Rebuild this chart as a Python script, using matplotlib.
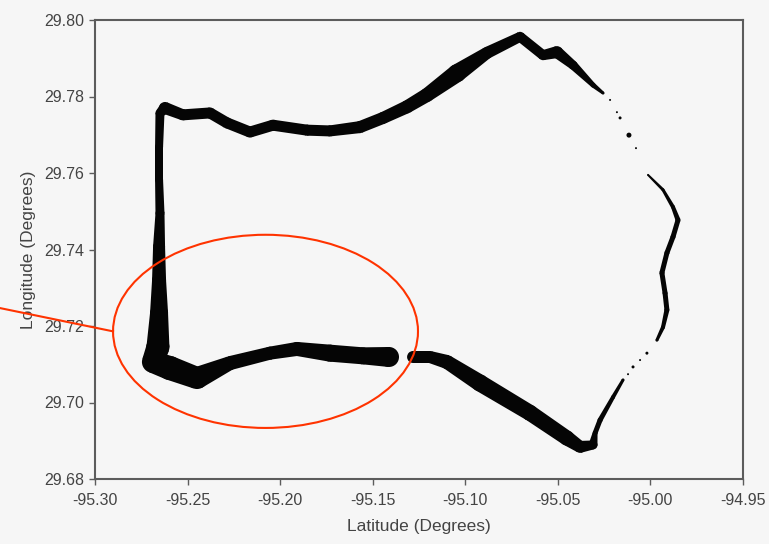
"""
GPS track of a test drive, line thickness = position spread.
The circled stretch marks the section discussed in the text.
"""
import numpy as np
import matplotlib
matplotlib.use("Agg")
import matplotlib.pyplot as plt
from matplotlib.collections import PolyCollection
from matplotlib.patches import Ellipse
from matplotlib.transforms import IdentityTransform

# ── Data ───────────────────────────────────────────────────────────────────
# solid stretch 1: from the big dot west, up the west road, east, over the top
RUN_A_LON = [-95.1412, -95.1553, -95.1731, -95.1909, -95.2055, -95.2271, -95.2449,
             -95.2595, -95.2687, -95.2660, -95.2654, -95.2654, -95.2654, -95.2649,
             -95.2654, -95.2654, -95.2649, -95.2622, -95.2525, -95.2379, -95.2287,
             -95.2163, -95.2039, -95.1855, -95.1731, -95.1569, -95.1444, -95.1315,
             -95.1207, -95.1045, -95.0883, -95.0704, -95.0580, -95.0505, -95.0418,
             -95.0310, -95.0256]
RUN_A_LAT = [29.7119, 29.7122, 29.7129, 29.7140, 29.7129, 29.7103, 29.7064,
             29.7090, 29.7106, 29.7145, 29.7234, 29.7320, 29.7407, 29.7495,
             29.7582, 29.7668, 29.7757, 29.7770, 29.7752, 29.7757, 29.7731,
             29.7707, 29.7725, 29.7712, 29.7710, 29.7720, 29.7744, 29.7773,
             29.7804, 29.7861, 29.7914, 29.7956, 29.7908, 29.7916, 29.7882,
             29.7830, 29.7809]
RUN_A_SPREAD = [20, 17, 17, 14, 13, 14, 22, 24, 22, 23, 18, 14, 12, 9,
                8, 8, 9, 12, 11, 11, 11, 11, 11, 11, 11, 12, 12, 13,
                14, 18, 12, 10, 10, 12, 9, 5, 3]

# solid stretch 2: east side, thin
RUN_B_LON = [-95.0013, -94.9932, -94.9878, -94.9851, -94.9878, -94.9911, -94.9938,
             -94.9921, -94.9911, -94.9932, -94.9965]
RUN_B_LAT = [29.7595, 29.7556, 29.7511, 29.7477, 29.7433, 29.7391, 29.7339,
             29.7286, 29.7242, 29.7197, 29.7163]
RUN_B_SPREAD = [2, 3, 4, 5, 5, 5, 5, 5, 5, 4, 3]

# solid stretch 3: south-east corner back west
RUN_C_LON = [-95.0148, -95.0202, -95.0272, -95.0299, -95.0310, -95.0380, -95.0451,
             -95.0651, -95.0921, -95.1099, -95.1191, -95.1282]
RUN_C_LAT = [29.7059, 29.7014, 29.6954, 29.6920, 29.6889, 29.6884, 29.6907,
             29.6973, 29.7051, 29.7106, 29.7119, 29.7119]
RUN_C_SPREAD = [3, 4, 5, 5, 9, 12, 15, 16, 17, 14, 12, 12]

# isolated fixes where the signal dropped out
DOT_LON = [-95.0218, -95.0181, -95.0164, -95.0116, -95.0078,
           -95.0019, -95.0056, -95.0094, -95.0121]
DOT_LAT = [29.7791, 29.7759, 29.7744, 29.7699, 29.7665,
           29.7129, 29.7111, 29.7093, 29.7074]
DOT_SPREAD = [2, 2, 3, 5, 2, 3, 2, 3, 2]

# highlighted region (centre lon/lat, extent lon/lat)
HILITE_CENTRE = (-95.2079, 29.7186)
HILITE_SIZE = (0.1647, 0.0505)

X_TICKS = [-95.30, -95.25, -95.20, -95.15, -95.10, -95.05, -95.00, -94.95]
Y_TICKS = [29.68, 29.70, 29.72, 29.74, 29.76, 29.78, 29.80]

# ── Style ─────────────────────────────────────────────────────────────────
BG = "#f6f6f6"
AXIS = "#5c5c5c"
TEXT = "#444444"
RED = "#ff3300"
INK = "#050505"
DPI = 100
PX2PT = 72 / DPI  # spread is in screen pixels

plt.rcParams["font.family"] = ["Liberation Sans", "DejaVu Sans"]

fig = plt.figure(figsize=(7.69, 5.44), dpi=DPI, facecolor=BG)
ax = fig.add_axes([95 / 769, 1 - 479 / 544, 648 / 769, 459 / 544])
ax.set_facecolor(BG)
ax.set_xlim(-95.30, -94.95)
ax.set_ylim(29.68, 29.80)


def draw_run(lon, lat, spread):
    """Tapered tube through the fixes: trapezoid per leg + disc per fix."""
    spread = np.asarray(spread, dtype=float)
    disp = ax.transData.transform(np.column_stack([lon, lat]))
    polys = []
    for i in range(len(disp) - 1):
        p0, p1 = disp[i], disp[i + 1]
        r0, r1 = spread[i] / 2, spread[i + 1] / 2
        d = p1 - p0
        length = np.hypot(*d)
        if length == 0:
            continue
        n = np.array([-d[1], d[0]]) / length
        polys.append([p0 + n * r0, p1 + n * r1, p1 - n * r1, p0 - n * r0])
    pc = PolyCollection(polys, facecolors=INK, edgecolors="none",
                        transform=IdentityTransform(), zorder=2)
    ax.add_collection(pc)
    ax.scatter(lon, lat, s=(spread * PX2PT) ** 2, color=INK,
               edgecolors="none", zorder=2)


draw_run(RUN_A_LON, RUN_A_LAT, RUN_A_SPREAD)
draw_run(RUN_B_LON, RUN_B_LAT, RUN_B_SPREAD)
draw_run(RUN_C_LON, RUN_C_LAT, RUN_C_SPREAD)

ax.scatter(DOT_LON, DOT_LAT, s=(np.array(DOT_SPREAD) * PX2PT) ** 2,
           color=INK, edgecolors="none", zorder=2)

# ── Annotation ────────────────────────────────────────────────────────────
ell = Ellipse(HILITE_CENTRE, HILITE_SIZE[0], HILITE_SIZE[1], fill=False,
              edgecolor=RED, linewidth=1.5, zorder=4)
ax.add_patch(ell)
left_lon = HILITE_CENTRE[0] - HILITE_SIZE[0] / 2
ax.plot([left_lon, -95.3675], [HILITE_CENTRE[1], 29.7263], color=RED,
        linewidth=1.5, clip_on=False, zorder=4)

# ── Axes ──────────────────────────────────────────────────────────────────
ax.set_xticks(X_TICKS)
ax.set_yticks(Y_TICKS)
ax.set_xticklabels([f"{v:.2f}" for v in X_TICKS])
ax.set_yticklabels([f"{v:.2f}" for v in Y_TICKS])
ax.tick_params(direction="out", length=4, width=1, colors=AXIS,
               labelcolor=TEXT, labelsize=11.5)
ax.tick_params(axis="x", pad=6)
ax.tick_params(axis="y", pad=4)
for sp in ax.spines.values():
    sp.set_color(AXIS)
    sp.set_linewidth(1.5)

ax.set_xlabel("Latitude (Degrees)", fontsize=12.5, color=TEXT, labelpad=8)
ax.set_ylabel("Longitude (Degrees)", fontsize=12.5, color=TEXT, labelpad=6)

fig.savefig("out.png", dpi=DPI, facecolor=BG)
